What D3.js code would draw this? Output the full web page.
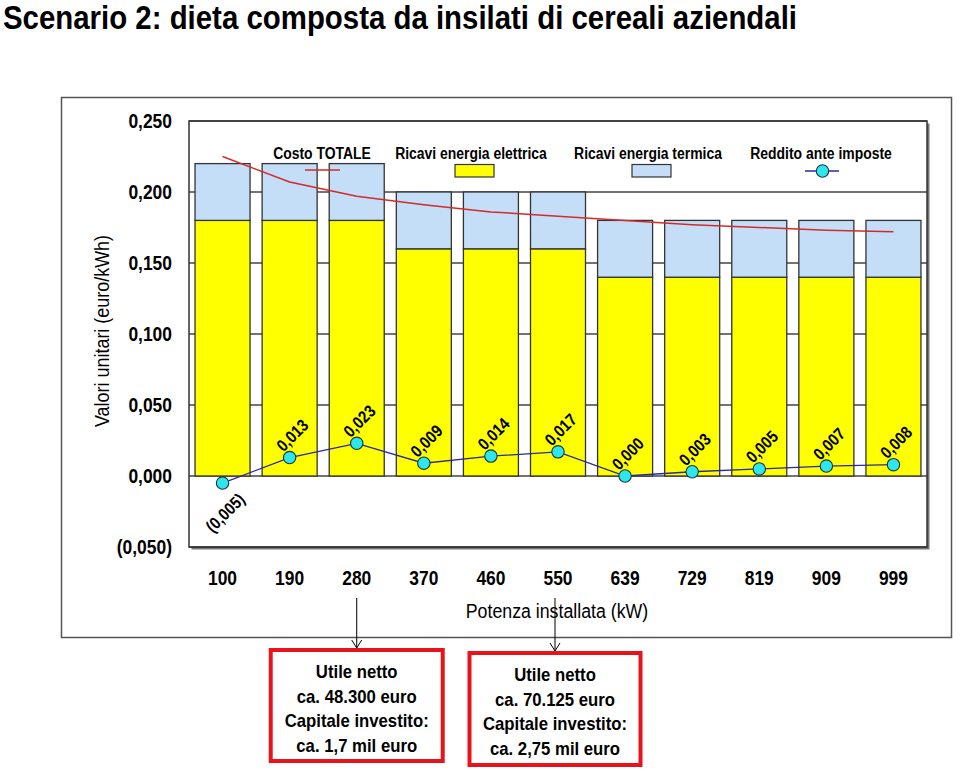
<!DOCTYPE html>
<html><head><meta charset="utf-8">
<script src="https://cdn.jsdelivr.net/npm/d3@7"></script>
<style>
html,body{margin:0;padding:0;background:#fff;}
svg{display:block;font-family:"Liberation Sans",Arial,sans-serif;}
</style></head>
<body><svg id="chart" width="960" height="771"></svg>
<script>
// ---- data ----
const categories = ["100","190","280","370","460","550","639","729","819","909","999"];
const ricaviElettrica = [0.18,0.18,0.18,0.16,0.16,0.16,0.14,0.14,0.14,0.14,0.14];
const ricaviTermica   = [0.04,0.04,0.04,0.04,0.04,0.04,0.04,0.04,0.04,0.04,0.04];
const costoTotale     = [0.225,0.207,0.197,0.191,0.186,0.183,0.180,0.177,0.175,0.173,0.172];
const reddito         = [-0.005,0.013,0.023,0.009,0.014,0.017,0.000,0.003,0.005,0.007,0.008];
const yTicks = [-0.05,0,0.05,0.10,0.15,0.20,0.25];
const seriesNames = ["Costo TOTALE","Ricavi energia elettrica","Ricavi energia termica","Reddito ante imposte"];
const title = "Scenario 2: dieta composta da insilati di cereali aziendali";
const yTitle = "Valori unitari (euro/kWh)";
const xTitle = "Potenza installata (kW)";
const notes = [
  {cat:"280", lines:["Utile netto","ca. 48.300 euro","Capitale investito:","ca. 1,7 mil euro"]},
  {cat:"550", lines:["Utile netto","ca. 70.125 euro","Capitale investito:","ca. 2,75 mil euro"]}
];

// ---- helpers ----
const loc = d3.formatLocale({decimal:",",thousands:".",grouping:[3],currency:["",""]});
const f3 = loc.format(".3f");
const fmt = v => v < 0 ? "(" + f3(-v) + ")" : f3(v);
function condense(sel, k){
  sel.each(function(){
    const L = this.getComputedTextLength();
    this.setAttribute("textLength", (L*k).toFixed(2));
    this.setAttribute("lengthAdjust","spacingAndGlyphs");
  });
}

const svg = d3.select("#chart");
const plot = {left:189, right:927, top:121, bottom:547};

// title
svg.append("text").attr("x",3).attr("y",29)
  .attr("font-size",33).attr("font-weight","bold").attr("fill","#000")
  .attr("textLength",794).attr("lengthAdjust","spacingAndGlyphs").text(title);

// outer frame
svg.append("rect").attr("x",61.5).attr("y",97.5).attr("width",890).attr("height",540)
  .attr("fill","none").attr("stroke","#555").attr("stroke-width",1.5);

const x = d3.scaleBand().domain(categories).range([plot.left,plot.right])
  .paddingInner(0.18).paddingOuter(0.09);
const y = d3.scaleLinear().domain([-0.05,0.25]).range([plot.bottom,plot.top]);
const cx = c => x(c) + x.bandwidth()/2;

// plot shadow + background
svg.append("rect").attr("x",plot.left+2.5).attr("y",plot.top+2.5)
  .attr("width",plot.right-plot.left).attr("height",plot.bottom-plot.top).attr("fill","#777");
svg.append("rect").attr("x",plot.left).attr("y",plot.top)
  .attr("width",plot.right-plot.left).attr("height",plot.bottom-plot.top).attr("fill","#fff");

// gridlines
svg.append("g").selectAll("line").data(yTicks).join("line")
  .attr("x1",plot.left).attr("x2",plot.right)
  .attr("y1",d=>y(d)).attr("y2",d=>y(d))
  .attr("stroke","#444").attr("stroke-width",1.5);

// bars
const stack = categories.map((c,i)=>({c, e:ricaviElettrica[i], t:ricaviTermica[i]}));
const bars = svg.append("g");
bars.selectAll("rect.e").data(stack).join("rect").attr("class","e")
  .attr("x",d=>x(d.c)).attr("width",x.bandwidth())
  .attr("y",d=>y(d.e)).attr("height",d=>y(0)-y(d.e))
  .attr("fill","#FFFF00").attr("stroke","#333").attr("stroke-width",1.3);
bars.selectAll("rect.t").data(stack).join("rect").attr("class","t")
  .attr("x",d=>x(d.c)).attr("width",x.bandwidth())
  .attr("y",d=>y(d.e+d.t)).attr("height",d=>y(d.e)-y(d.e+d.t))
  .attr("fill","#C4DEF8").attr("stroke","#333").attr("stroke-width",1.3);

// plot border
svg.append("rect").attr("x",plot.left).attr("y",plot.top)
  .attr("width",plot.right-plot.left).attr("height",plot.bottom-plot.top)
  .attr("fill","none").attr("stroke","#333").attr("stroke-width",1.5);

// cost line
svg.append("path").datum(categories.map((c,i)=>[cx(c),y(costoTotale[i])]))
  .attr("d",d3.line()).attr("fill","none").attr("stroke","#D42A2A").attr("stroke-width",1.5);

// reddito line + markers
svg.append("path").datum(categories.map((c,i)=>[cx(c),y(reddito[i])]))
  .attr("d",d3.line()).attr("fill","none").attr("stroke","#2828A8").attr("stroke-width",1.3);
svg.append("g").selectAll("circle").data(categories).join("circle")
  .attr("cx",d=>cx(d)).attr("cy",(d,i)=>y(reddito[i])).attr("r",6.2)
  .attr("fill","#2EE6EE").attr("stroke","#1d3540").attr("stroke-width",1.1);

// data labels
const dl = svg.append("g").selectAll("text").data(categories).join("text")
  .attr("transform",(d,i)=>{
    const v = reddito[i];
    const px = cx(d)+3, py = y(v) + (v<0 ? 30 : -22);
    return `translate(${px},${py}) rotate(-45)`;
  })
  .attr("text-anchor","middle").attr("dominant-baseline","central")
  .attr("font-size",17).attr("font-weight","bold").attr("fill","#000")
  .text((d,i)=>fmt(reddito[i]));
condense(dl,0.87);

// y tick labels
const yl = svg.append("g").selectAll("text").data(yTicks).join("text")
  .attr("x",172).attr("y",d=>y(d)).attr("dy","0.36em").attr("text-anchor","end")
  .attr("font-size",20.5).attr("font-weight","bold").attr("fill","#000")
  .text(fmt);
condense(yl,0.85);

// x tick labels
const xl = svg.append("g").selectAll("text").data(categories).join("text")
  .attr("x",d=>cx(d)).attr("y",585).attr("text-anchor","middle")
  .attr("font-size",20).attr("font-weight","bold").attr("fill","#000")
  .text(d=>d);
condense(xl,0.87);

// axis titles
const yt = svg.append("text").attr("transform","translate(109,331) rotate(-90)")
  .attr("text-anchor","middle").attr("font-size",19.5).attr("fill","#000").text(yTitle);
condense(yt,0.92);
const xt = svg.append("text").attr("x",557).attr("y",618).attr("text-anchor","middle")
  .attr("font-size",19.5).attr("fill","#000").text(xTitle);
condense(xt,0.91);

// legend
const legX = [322,471,648,821];
const lg = svg.append("g");
const lt = lg.selectAll("text").data(seriesNames).join("text")
  .attr("x",(d,i)=>legX[i]).attr("y",159).attr("text-anchor","middle")
  .attr("font-size",16).attr("font-weight","bold").attr("fill","#000").text(d=>d);
condense(lt,0.87);
lg.append("line").attr("x1",legX[0]-17).attr("x2",legX[0]+18).attr("y1",170).attr("y2",170)
  .attr("stroke","#D42A2A").attr("stroke-width",1.5);
lg.append("rect").attr("x",legX[1]-16).attr("y",164.5).attr("width",39).attr("height",12.5)
  .attr("fill","#FFFF00").attr("stroke","#333").attr("stroke-width",1.2);
lg.append("rect").attr("x",legX[2]-16).attr("y",164.5).attr("width",39).attr("height",12.5)
  .attr("fill","#C4DEF8").attr("stroke","#333").attr("stroke-width",1.2);
lg.append("line").attr("x1",legX[3]-16).attr("x2",legX[3]+18).attr("y1",171).attr("y2",171)
  .attr("stroke","#2828A8").attr("stroke-width",1.3);
lg.append("circle").attr("cx",legX[3]+1.5).attr("cy",171).attr("r",6.2)
  .attr("fill","#2EE6EE").attr("stroke","#1d3540").attr("stroke-width",1.1);

// annotations: arrows + boxes
const boxTop = [650,653], boxH = [111,112], boxW = [172,171], arrowDx = [0,-3];
notes.forEach((n,k)=>{
  const ax = cx(n.cat) + arrowDx[k];
  const g = svg.append("g");
  g.append("line").attr("x1",ax).attr("x2",ax).attr("y1",598).attr("y2",boxTop[k]-2)
    .attr("stroke","#000").attr("stroke-width",1);
  g.append("path").attr("d",`M${ax-5},${boxTop[k]-10}L${ax},${boxTop[k]-2}L${ax+5},${boxTop[k]-10}`)
    .attr("fill","none").attr("stroke","#000").attr("stroke-width",1);
  const bx = cx(n.cat) + arrowDx[k];
  g.append("rect").attr("x",bx-boxW[k]/2).attr("y",boxTop[k]).attr("width",boxW[k]).attr("height",boxH[k])
    .attr("fill","#fff").attr("stroke","#E8141B").attr("stroke-width",4);
  const tt = g.selectAll("text").data(n.lines).join("text")
    .attr("x",bx).attr("y",(d,i)=>boxTop[k]+28+i*24.7).attr("text-anchor","middle")
    .attr("font-size",19).attr("font-weight","bold").attr("fill","#000").text(d=>d);
  condense(tt,0.88);
});
</script></body></html>
